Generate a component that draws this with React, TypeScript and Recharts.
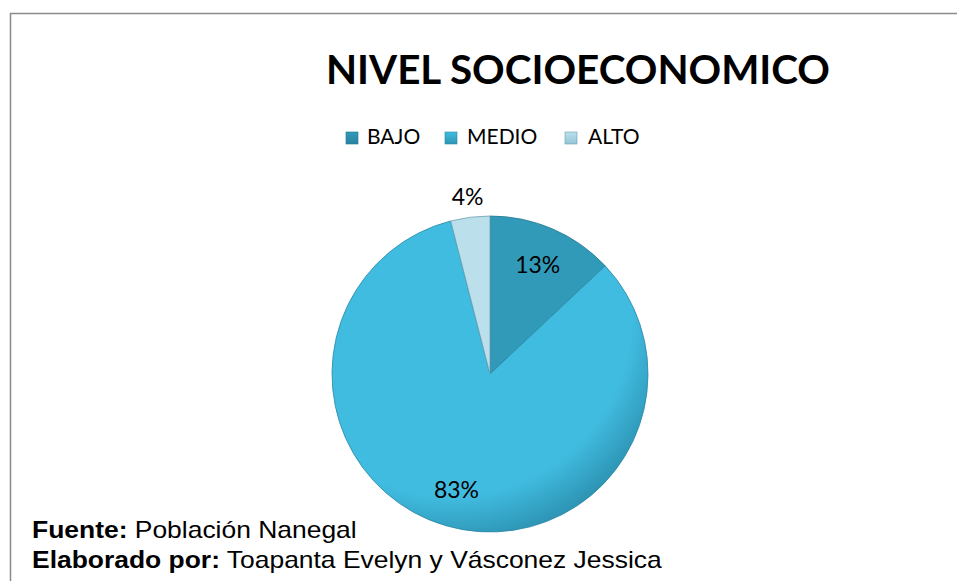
import React from "react";
import { PieChart, Pie, Cell, Legend } from "recharts";

const categories = ["BAJO", "MEDIO", "ALTO"];
const values = [13, 83, 4];
const labels = ["13%", "83%", "4%"];
const title = "NIVEL SOCIOECONOMICO";
const sourceLabel = "Fuente:";
const sourceText = " Población Nanegal";
const authorLabel = "Elaborado por:";
const authorText = " Toapanta Evelyn y Vásconez Jessica";

const data = categories.map((name, i) => ({ name, value: values[i], label: labels[i] }));

const gradients = [
  { id: "gBajo", top: "#329AB9", bottom: "#2984A1", stroke: "#24758f" },
  { id: "gMedio", top: "#40BCE0", bottom: "#2E95B5", stroke: "#2a88a6" },
  { id: "gAlto", top: "#BBE0EC", bottom: "#94C5D6", stroke: "#6f9fb0" },
];

const FONT = "Lato, 'Open Sans', sans-serif";
const NOTE_FONT = "'Liberation Sans', Arial, sans-serif";
const CX = 490;
const CY = 374;
const R = 158;
const LEGEND_H = 40;

const RAD = Math.PI / 180;

const renderLabel = (props: any) => {
  const { midAngle, index } = props;
  const r = index === 2 ? R + 21 : R * 0.76;
  const x = CX + r * Math.cos(-midAngle * RAD);
  const y = CY + r * Math.sin(-midAngle * RAD);
  return (
    <text
      x={x}
      y={y}
      textAnchor="middle"
      dominantBaseline="central"
      fontFamily={FONT}
      fontSize={23}
      fill="#000"
    >
      {data[index].label}
    </text>
  );
};

const renderLegend = () => {
  const items = [
    { x: 346, textX: 367 },
    { x: 445, textX: 467 },
    { x: 565, textX: 588 },
  ];
  return (
    <svg width={957} height={LEGEND_H} style={{ display: "block" }}>
      {data.map((d, i) => (
        <g key={d.name}>
          <rect
            x={items[i].x}
            y={12}
            width={12}
            height={12}
            fill={`url(#${gradients[i].id}L)`}
            stroke={gradients[i].stroke}
            strokeWidth={0.6}
          />
          <text
            x={items[i].textX}
            y={24}
            fontFamily={FONT}
            fontSize={21}
            fill="#000"
          >
            {d.name}
          </text>
        </g>
      ))}
    </svg>
  );
};

export default function App() {
  return (
    <div style={{ position: "absolute", left: 0, top: 0, width: 957, height: 581, background: "#fff", overflow: "hidden" }}>
      <svg
        width={957}
        height={581}
        style={{ position: "absolute", left: 0, top: 0 }}
      >
        <defs>
          {gradients.map((g) => (
            <linearGradient key={g.id + "L"} id={g.id + "L"} x1="0" y1="0" x2="0" y2="1">
              <stop offset="0%" stopColor={g.top} />
              <stop offset="100%" stopColor={g.bottom} />
            </linearGradient>
          ))}
        </defs>
        <line x1={10} y1={13.5} x2={957} y2={13.5} stroke="#8a8a8a" strokeWidth={1.5} />
        <line x1={10.5} y1={13} x2={10.5} y2={581} stroke="#8a8a8a" strokeWidth={1.5} />
        <text
          x={326}
          y={84}
          fontFamily={FONT}
          fontWeight={700}
          fontSize={41}
          textLength={504}
          lengthAdjust="spacingAndGlyphs"
          fill="#000"
        >
          {title}
        </text>
        <g transform="translate(32,538) scale(1.15,1)">
          <text x={0} y={0} fontFamily={NOTE_FONT} fontSize={23} fill="#000">
            <tspan fontWeight={700}>{sourceLabel}</tspan>
            <tspan>{sourceText}</tspan>
          </text>
        </g>
        <g transform="translate(32,568) scale(1.15,1)">
          <text x={0} y={0} fontFamily={NOTE_FONT} fontSize={23} fill="#000">
            <tspan fontWeight={700}>{authorLabel}</tspan>
            <tspan>{authorText}</tspan>
          </text>
        </g>
      </svg>
      <div style={{ position: "absolute", left: 0, top: 0 }}>
        <PieChart width={957} height={581} margin={{ top: 0, right: 0, bottom: 0, left: 0 }}>
          <defs>
            {gradients.map((g) => (
              <radialGradient
                key={g.id}
                id={g.id}
                gradientUnits="userSpaceOnUse"
                cx={CX - 40}
                cy={CY - 60}
                r={R + 70}
              >
                <stop offset="0%" stopColor={g.top} />
                <stop offset="80%" stopColor={g.top} />
                <stop offset="100%" stopColor={g.bottom} />
              </radialGradient>
            ))}
          </defs>
          <Legend
            verticalAlign="top"
            align="left"
            content={renderLegend}
            wrapperStyle={{ position: "absolute", left: 0, top: 120, width: 957, height: LEGEND_H }}
          />
          <Pie
            data={data}
            dataKey="value"
            nameKey="name"
            cx={CX}
            cy={CY - LEGEND_H}
            outerRadius={R}
            startAngle={90}
            endAngle={-270}
            label={renderLabel}
            labelLine={false}
            isAnimationActive={false}
          >
            {data.map((d, i) => (
              <Cell
                key={d.name}
                fill={`url(#${gradients[i].id})`}
                stroke={gradients[i].stroke}
                strokeWidth={0.8}
              />
            ))}
          </Pie>
        </PieChart>
      </div>
    </div>
  );
}
